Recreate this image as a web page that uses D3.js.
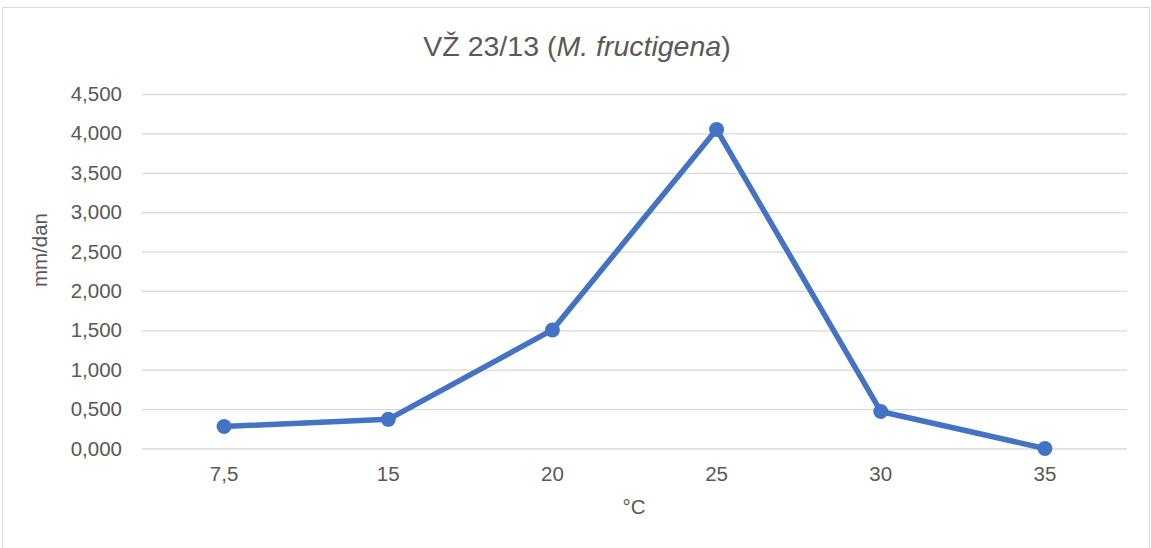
<!DOCTYPE html>
<html>
<head>
<meta charset="utf-8">
<script src="https://cdn.jsdelivr.net/npm/d3@7"></script>
<style>
  html, body { margin: 0; padding: 0; background: #fff; }
  svg { display: block; font-family: "Liberation Sans", Arial, sans-serif; }
</style>
</head>
<body>
<svg id="chart" width="1151" height="548"></svg>
<script>
// Growth rate by temperature
const categories = ["7,5", "15", "20", "25", "30", "35"];
const values = [0.28, 0.37, 1.505, 4.05, 0.47, 0.0];
const yTicks = [0, 0.5, 1, 1.5, 2, 2.5, 3, 3.5, 4, 4.5];

const svg = d3.select("#chart");
const W = 1151, H = 548;
const plot = { left: 142, right: 1127, top: 94, bottom: 448.5 };
const labelSize = "20.5px";

// outer chart frame
svg.append("rect")
  .attr("x", 2.5).attr("y", 7.5)
  .attr("width", W - 4).attr("height", H + 10)
  .attr("fill", "#fff").attr("stroke", "#d9d9d9").attr("stroke-width", 1);

const x = d3.scaleBand().domain(categories).range([plot.left, plot.right]);
const y = d3.scaleLinear().domain([0, 4.5]).range([plot.bottom, plot.top]);

const fmt = v => d3.format(".3f")(v).replace(".", ",");

// horizontal gridlines + y labels
const yAxis = d3.axisLeft(y).tickValues(yTicks).tickFormat(fmt)
  .tickSize(-(plot.right - plot.left));
const gy = svg.append("g").attr("transform", `translate(${plot.left},0)`).call(yAxis);
gy.select(".domain").remove();
gy.selectAll(".tick line").attr("stroke", "#d9d9d9").attr("stroke-width", 1.3);
gy.selectAll(".tick text").attr("fill", "#595959").style("font-size", labelSize)
  .attr("x", -20);

// x labels
const xAxis = d3.axisBottom(x).tickSize(0).tickPadding(17);
const gx = svg.append("g").attr("transform", `translate(0,${plot.bottom})`).call(xAxis);
gx.select(".domain").remove();
gx.selectAll(".tick text").attr("fill", "#595959").style("font-size", labelSize)
  .attr("dy", null).attr("y", 32.5);

// series line
const pts = categories.map((c, i) => [x(c) + x.bandwidth() / 2, y(values[i])]);
svg.append("path")
  .attr("d", d3.line()(pts))
  .attr("fill", "none").attr("stroke", "#4472C4")
  .attr("stroke-width", 5.5).attr("stroke-linejoin", "round");

svg.selectAll("circle.pt").data(pts).join("circle")
  .attr("class", "pt")
  .attr("cx", d => d[0]).attr("cy", d => d[1]).attr("r", 7.5)
  .attr("fill", "#4472C4");

// title
const title = svg.append("text")
  .attr("x", 577).attr("y", 56).attr("text-anchor", "middle")
  .attr("fill", "#595959").style("font-size", "28.5px");
title.append("tspan").text("VŽ 23/13 (");
title.append("tspan").style("font-style", "italic").text("M. fructigena");
title.append("tspan").text(")");

// axis titles
svg.append("text")
  .attr("transform", "translate(47,250) rotate(-90)")
  .attr("text-anchor", "middle").attr("fill", "#595959")
  .style("font-size", labelSize).text("mm/dan");

svg.append("text")
  .attr("x", 634).attr("y", 513.5).attr("text-anchor", "middle")
  .attr("fill", "#595959").style("font-size", labelSize).text("°C");
</script>
</body>
</html>
